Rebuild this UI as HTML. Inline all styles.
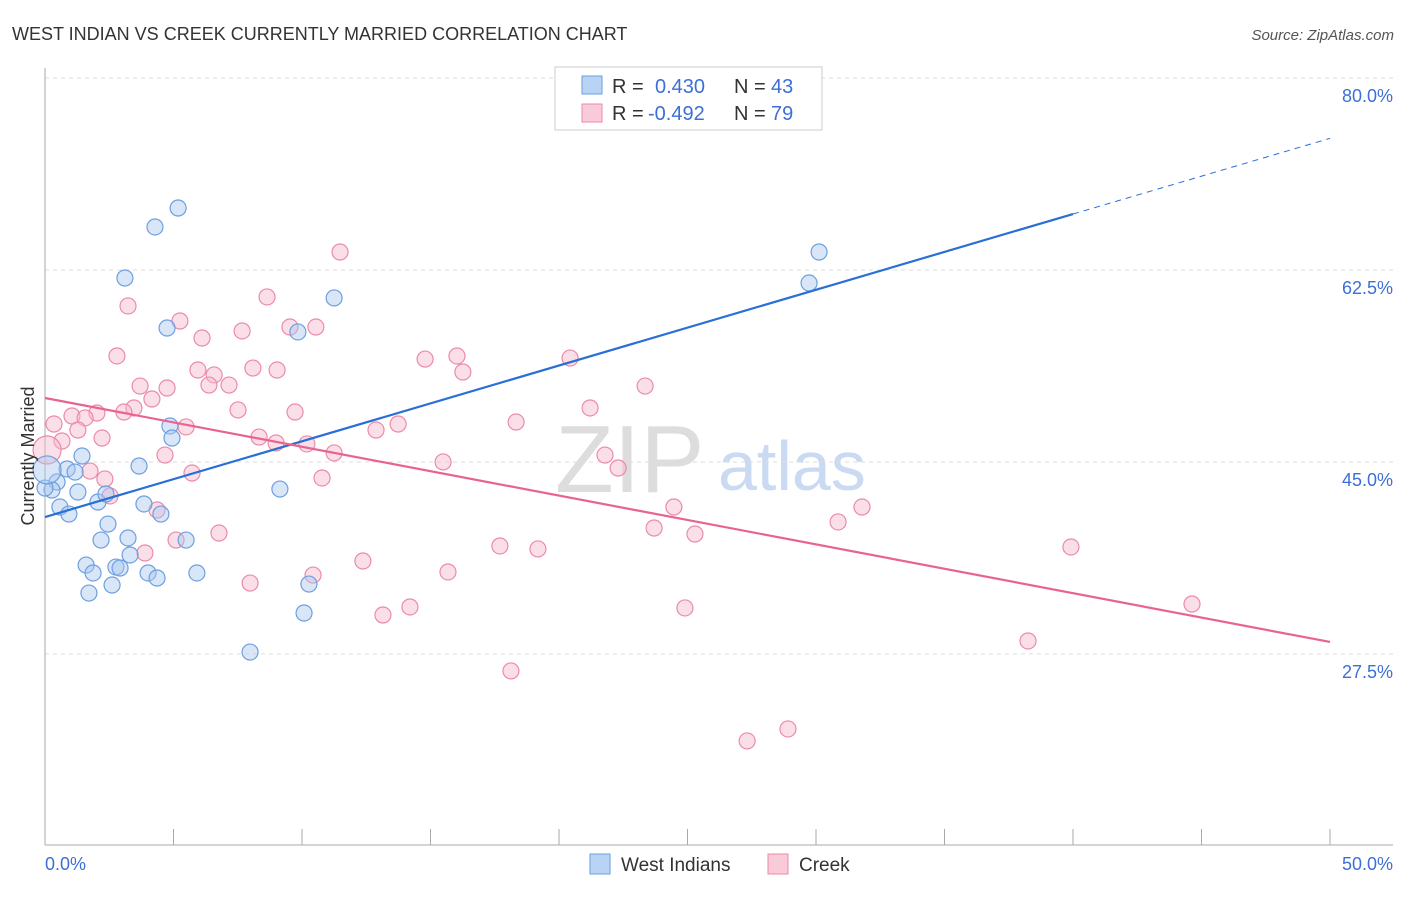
<!DOCTYPE html>
<html><head><meta charset="utf-8"><style>
body{margin:0;background:#fff;font-family:"Liberation Sans",sans-serif;}
svg text{font-family:"Liberation Sans",sans-serif;}
</style></head><body>
<svg id="chart" width="1406" height="892">
<text x="12" y="40" font-size="18" fill="#333">WEST INDIAN VS CREEK CURRENTLY MARRIED CORRELATION CHART</text>
<text x="1394" y="40" font-size="15" fill="#555" font-style="italic" text-anchor="end">Source: ZipAtlas.com</text>
<g>
<text x="555" y="492" font-size="96" fill="#ddd" font-family="Liberation Serif">ZIP</text>
<text x="718" y="490" font-size="70" fill="#c9daf2">atlas</text>
</g>
<g id="grid"></g><g id="axes"></g><g id="pts"></g><g id="lines"></g>
<text transform="translate(34,456) rotate(-90)" font-size="18" fill="#333" text-anchor="middle">Currently Married</text>
<text x="45" y="870" font-size="18" fill="#3d6fd6">0.0%</text>
<text x="1393" y="870" font-size="18" fill="#3d6fd6" text-anchor="end">50.0%</text>
<g>
<rect x="555" y="67" width="267" height="63" fill="#fff" stroke="#ccc"/>
<rect x="582" y="76" width="20" height="18" fill="#b9d3f4" stroke="#6d9fe0"/>
<rect x="582" y="104" width="20" height="18" fill="#f9cad8" stroke="#ec8aa8"/>
<text x="612" y="93" font-size="20" fill="#333">R =</text>
<text x="655" y="93" font-size="20" fill="#3d6fd6">0.430</text>
<text x="734" y="93" font-size="20" fill="#333">N =</text>
<text x="771" y="93" font-size="20" fill="#3d6fd6">43</text>
<text x="612" y="120" font-size="20" fill="#333">R =</text>
<text x="648" y="120" font-size="20" fill="#3d6fd6">-0.492</text>
<text x="734" y="120" font-size="20" fill="#333">N =</text>
<text x="771" y="120" font-size="20" fill="#3d6fd6">79</text>
</g>
<g>
<rect x="590" y="854" width="20" height="20" fill="#b9d3f4" stroke="#6d9fe0"/>
<text x="621" y="871" font-size="19" fill="#333">West Indians</text>
<rect x="768" y="854" width="20" height="20" fill="#f9cad8" stroke="#ec8aa8"/>
<text x="799" y="871" font-size="19" fill="#333">Creek</text>
</g>
</svg>
<script>
const yTicks=[80,62.5,45,27.5];
const yTickLabels=["80.0%","62.5%","45.0%","27.5%"];
const blueX=[5.18,4.28,3.11,4.75,11.25,9.84,4.86,4.94,3.66,1.44,0.86,1.17,0.47,0.27,1.28,0.58,0.93,2.06,2.37,3.85,4.51,2.45,2.18,3.23,5.49,3.31,1.6,1.87,2.76,2.92,4.01,4.36,5.91,2.61,1.71,10.27,10.08,7.98,9.14,30.12,29.73,0,0.08];
const blueY=[68.15,66.42,61.77,57.21,59.95,56.85,48.28,47.18,44.63,45.54,44.36,44.08,43.17,42.44,42.26,40.89,40.25,41.35,42.08,41.17,40.25,39.34,37.88,38.07,37.88,36.52,35.6,34.88,35.42,35.33,34.88,34.42,34.88,33.78,33.05,33.87,31.23,27.67,42.53,64.14,61.31,42.62,44.27];
const pinkX=[11.48,8.64,3.23,5.25,6.11,7.67,9.53,10.54,2.8,14.79,16.03,20.43,16.26,5.95,6.58,8.09,9.03,3.7,4.75,6.38,7.16,23.35,4.16,3.46,3.07,2.02,1.05,1.56,7.51,9.73,21.21,18.33,13.74,12.88,0.35,1.28,5.49,2.22,0.66,8.33,8.99,10.19,11.25,4.67,1.75,5.72,15.49,21.79,22.3,10.78,2.33,2.53,4.36,24.47,31.79,30.86,23.7,25.29,6.77,5.1,3.89,17.7,19.18,39.92,12.37,15.68,10.43,7.98,14.2,13.15,24.9,44.63,38.25,18.13,28.91,27.32,0.08];
const pinkY=[64.14,60.04,59.22,57.85,56.3,56.94,57.3,57.3,54.66,54.38,54.66,54.47,53.2,53.38,52.93,53.56,53.38,51.92,51.74,52.01,52.01,51.92,50.74,49.92,49.55,49.46,49.19,49.01,49.74,49.55,49.92,48.64,48.46,47.91,48.46,47.91,48.19,47.18,46.91,47.27,46.73,46.64,45.82,45.63,44.17,43.99,45.0,45.63,44.45,43.54,43.45,41.9,40.62,40.89,40.89,39.53,38.98,38.43,38.52,37.88,36.7,37.34,37.07,37.25,35.97,34.97,34.69,33.96,31.78,31.05,31.69,32.05,28.68,25.95,20.66,19.57,46.09];
const blueLine=[[0,39.98],[40,67.6]];
const blueDash=[[40,67.6],[50,74.5]];
const pinkLine=[[0,50.83],[50,28.59]];
const NS="http://www.w3.org/2000/svg";
const X=v=>45+v*25.7, Y=v=>78+(80-v)*10.97;
function mk(p,t,a){const e=document.createElementNS(NS,t);for(const k in a)e.setAttribute(k,a[k]);p.appendChild(e);return e;}
const grid=document.getElementById('grid'),axes=document.getElementById('axes'),pts=document.getElementById('pts'),lines=document.getElementById('lines');
yTicks.forEach((t,i)=>{
 const l=mk(grid,'line',{x1:45,x2:1393,y1:Y(t),y2:Y(t),stroke:'#ddd','stroke-dasharray':'4,4'});
 
 
 const tx=mk(grid,'text',{x:1393,y:Y(t)+24,'font-size':18,fill:'#3d6fd6','text-anchor':'end'});
 tx.textContent=yTickLabels[i];
 
 
});
let a=mk(axes,'line',{x1:45,x2:45,y1:68,y2:845,stroke:'#aaa'});


a=mk(axes,'line',{x1:45,x2:1393,y1:845,y2:845,stroke:'#aaa'});


for(let v=5;v<=50;v+=5){const t=mk(axes,'line',{x1:X(v),x2:X(v),y1:829,y2:845,stroke:'#aaa'});
 
 }
pinkX.forEach((x,i)=>{const big=i===pinkX.length-1;const c=mk(pts,'circle',{cx:X(x),cy:Y(pinkY[i]),r:big?14:8,fill:'#f6b8cc','fill-opacity':0.45,stroke:'#ec8aa8','stroke-width':1.2});
 
 });
blueX.forEach((x,i)=>{const big=i===blueX.length-1;const c=mk(pts,'circle',{cx:X(x),cy:Y(blueY[i]),r:big?14:8,fill:'#a9c8f0','fill-opacity':0.45,stroke:'#6d9fe0','stroke-width':1.2});
 
 });
let L=mk(lines,'line',{x1:X(blueLine[0][0]),y1:Y(blueLine[0][1]),x2:X(blueLine[1][0]),y2:Y(blueLine[1][1]),stroke:'#2a6fd6','stroke-width':2.2});


L=mk(lines,'line',{x1:X(blueDash[0][0]),y1:Y(blueDash[0][1]),x2:X(blueDash[1][0]),y2:Y(blueDash[1][1]),stroke:'#2a6fd6','stroke-width':1,'stroke-dasharray':'6,5'});


L=mk(lines,'line',{x1:X(pinkLine[0][0]),y1:Y(pinkLine[0][1]),x2:X(pinkLine[1][0]),y2:Y(pinkLine[1][1]),stroke:'#e8648f','stroke-width':2.2});


</script>
</body></html>
